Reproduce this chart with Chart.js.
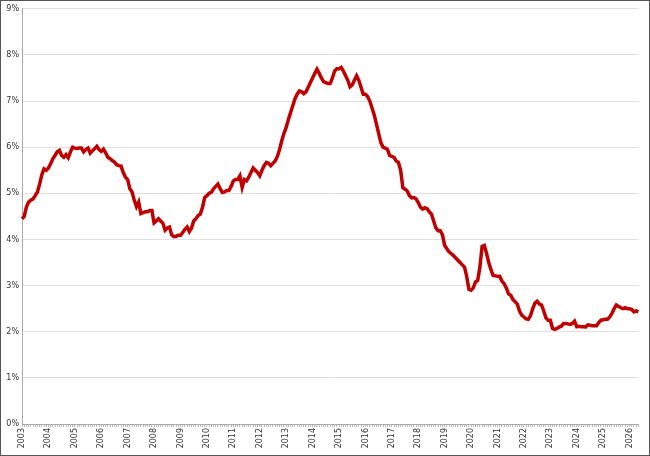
<!DOCTYPE html>
<html>
<head>
<meta charset="utf-8">
<script src="https://cdn.jsdelivr.net/npm/chart.js@4"></script>
<style>
    html, body { margin: 0; padding: 0; background: #fff; }
    #wrap { width: 648px; height: 454px; border: 1px solid #555; }
</style>
</head>
<body>
<div id="wrap"><canvas id="chart" width="648" height="454"></canvas></div>
<script>
const firstYear = 2003;

// monthly values (%), Jan 2003 .. May 2026
const values2003_2009 = [
    4.45, 4.5, 4.7, 4.81, 4.85, 4.88, 4.95, 5.03, 5.2, 5.4, 5.53, 5.5,
    5.55, 5.64, 5.75, 5.82, 5.9, 5.93, 5.82, 5.78, 5.84, 5.77, 5.9, 6.0,
    5.98, 5.97, 5.98, 5.98, 5.9, 5.95, 5.98, 5.87, 5.92, 5.97, 6.02, 5.95,
    5.91, 5.96, 5.88, 5.78, 5.75, 5.71, 5.68, 5.62, 5.6, 5.59, 5.45, 5.35,
    5.3, 5.1, 5.03, 4.85, 4.71, 4.81, 4.56, 4.58, 4.6, 4.6, 4.63, 4.63,
    4.36, 4.4, 4.45, 4.4, 4.35, 4.2, 4.25, 4.27, 4.1, 4.06, 4.07, 4.09,
    4.09, 4.15, 4.22, 4.27, 4.17, 4.25, 4.4, 4.45, 4.52, 4.55, 4.7, 4.91
];
const values2010_2017 = [
    4.95, 5.0, 5.02, 5.1, 5.15, 5.2, 5.1, 5.02, 5.03, 5.06, 5.06, 5.15,
    5.27, 5.3, 5.3, 5.38, 5.13, 5.3, 5.27, 5.35, 5.45, 5.55, 5.5, 5.45,
    5.38, 5.5, 5.6, 5.67, 5.65, 5.6, 5.65, 5.7, 5.8, 5.95, 6.14, 6.3,
    6.43, 6.6, 6.75, 6.9, 7.05, 7.15, 7.22, 7.2, 7.16, 7.2, 7.3, 7.4,
    7.5, 7.6, 7.69, 7.6, 7.5, 7.42, 7.4, 7.38, 7.38, 7.5, 7.65, 7.7,
    7.7, 7.73, 7.65, 7.55, 7.45, 7.31, 7.35, 7.45, 7.55, 7.45, 7.3, 7.15,
    7.15, 7.1, 7.0, 6.85, 6.7, 6.5, 6.3, 6.1, 6.0, 5.98, 5.95, 5.82,
    5.8, 5.78, 5.7, 5.67, 5.5, 5.12, 5.09, 5.05, 4.95, 4.9, 4.91, 4.88
];
const values2018_2026 = [
    4.8, 4.7, 4.66, 4.69, 4.67, 4.6, 4.55, 4.4, 4.25, 4.19, 4.19, 4.1,
    3.87, 3.8, 3.73, 3.69, 3.65, 3.6, 3.55, 3.5, 3.45, 3.4, 3.2, 2.92,
    2.9, 2.95, 3.08, 3.11, 3.4, 3.85, 3.87, 3.7, 3.5, 3.35, 3.22, 3.21,
    3.2, 3.2, 3.1, 3.04, 2.95, 2.82, 2.79, 2.7, 2.65, 2.6, 2.45, 2.36,
    2.32, 2.28, 2.27, 2.35, 2.5, 2.62, 2.66, 2.6, 2.58, 2.45, 2.3, 2.25,
    2.25, 2.07, 2.05, 2.07, 2.1, 2.12, 2.18, 2.18, 2.17, 2.16, 2.18, 2.23,
    2.11, 2.12, 2.11, 2.11, 2.1, 2.15, 2.14, 2.13, 2.13, 2.13, 2.2, 2.25,
    2.26, 2.27, 2.27, 2.32, 2.4, 2.5, 2.58, 2.55, 2.52, 2.5, 2.52, 2.5,
    2.5, 2.48, 2.43, 2.45, 2.43
];

const values = [...values2003_2009, ...values2010_2017, ...values2018_2026];

// one label per January
const labels = values.map((v, i) => i % 12 === 0 ? String(firstYear + i / 12) : '');

new Chart(document.getElementById('chart'), {
    type: 'line',
    data: {
        labels: labels,
        datasets: [{
            data: values,
            borderColor: '#c00000',
            borderWidth: 3.5,
            pointRadius: 0,
            tension: 0,
            fill: false
        }]
    },
    options: {
        responsive: false,
        animation: false,
        layout: { padding: { top: 7, right: 8, left: 0, bottom: 0 } },
        plugins: { legend: { display: false }, tooltip: { enabled: false } },
        scales: {
            x: {
                offset: false,
                grid: { drawOnChartArea: false, tickLength: 3, color: '#bbb' },
                border: { color: '#aaa' },
                afterFit: s => { s.height = 31; },
                ticks: {
                    autoSkip: false,
                    maxRotation: 90,
                    minRotation: 90,
                    padding: 1,
                    color: '#333',
                    font: { family: 'DejaVu Sans', size: 8 }
                }
            },
            y: {
                min: 0,
                max: 9,
                grid: { color: '#e0e0e0', drawTicks: false },
                border: { color: '#aaa' },
                afterFit: s => { s.width = 21; },
                ticks: {
                    stepSize: 1,
                    padding: 3,
                    color: '#333',
                    font: { family: 'DejaVu Sans', size: 8 },
                    callback: v => v + '%'
                }
            }
        }
    }
});
</script>
</body>
</html>
